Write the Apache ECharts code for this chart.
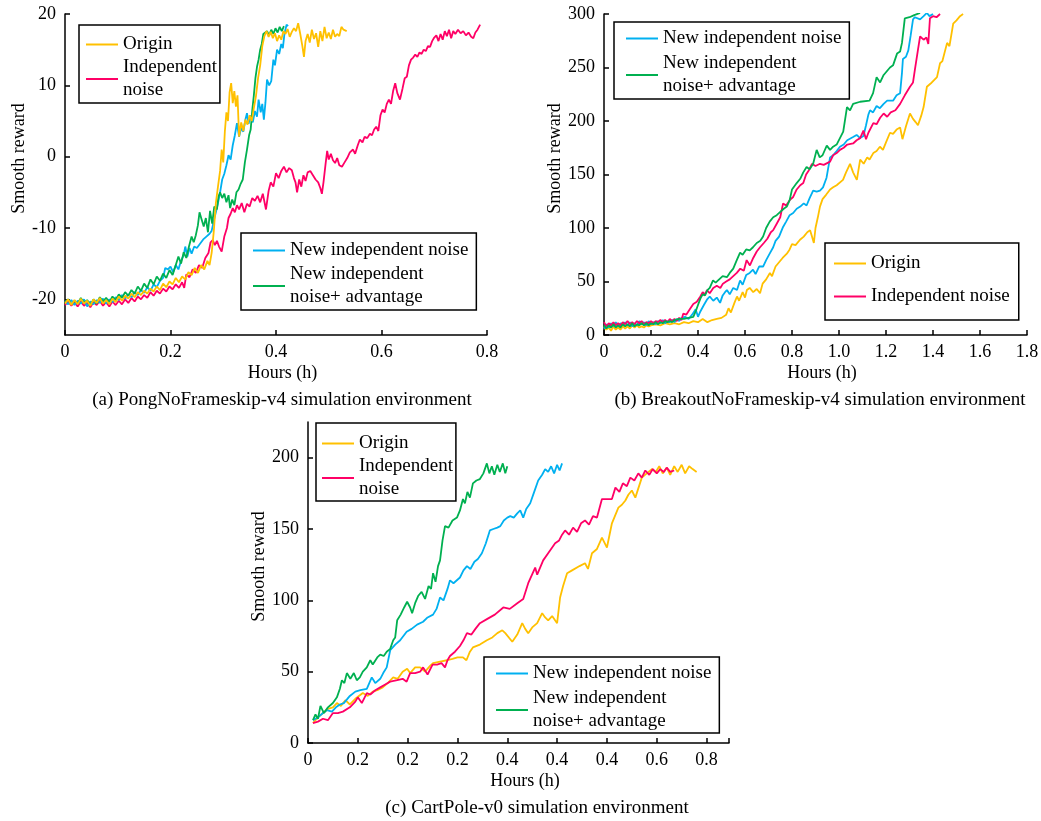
<!DOCTYPE html>
<html>
<head>
<meta charset="utf-8">
<script src="https://cdn.jsdelivr.net/npm/echarts@6/dist/echarts.min.js"></script>
<style>
html,body{margin:0;padding:0;background:#fff;}
#chart{width:1041px;height:821px;}
</style>
</head>
<body>
<div id="chart"></div>
<script>
// ---------- tick values / labels ----------
const pongXTicks = [0, 0.2, 0.4, 0.6, 0.8];
const pongYTicks = [-20, -10, 0, 10, 20];
const breakXTicks = [0, 0.2, 0.4, 0.6, 0.8, 1.0, 1.2, 1.4, 1.6, 1.8];
const breakYTicks = [0, 50, 100, 150, 200, 250, 300];
const cartXTicks = [0, 0.1, 0.2, 0.3, 0.4, 0.5, 0.6, 0.7, 0.8];
const cartXLabels = ['0', '0.2', '0.2', '0.2', '0.4', '0.4', '0.4', '0.6', '0.8'];
const cartYTicks = [0, 50, 100, 150, 200];

const seriesNames = ['Origin', 'Independent noise', 'New independent noise', 'New independent noise+ advantage'];
const captions = ['(a) PongNoFrameskip-v4 simulation environment', '(b) BreakoutNoFrameskip-v4 simulation environment', '(c) CartPole-v0 simulation environment'];

// ---------- (a) Pong ----------
const pongOrigin = [[0,-20.6],[0.006,-20.0],[0.012,-20.8],[0.018,-20.1],[0.024,-20.7],[0.03,-19.9],[0.036,-20.6],[0.042,-20.2],[0.048,-20.9],[0.054,-20.0],[0.06,-20.5],[0.066,-19.8],[0.072,-20.6],[0.078,-20.1],[0.084,-20.7],[0.09,-19.9],[0.096,-20.4],[0.102,-19.6],[0.108,-20.2],[0.114,-19.5],[0.12,-19.9],[0.126,-19.2],[0.132,-19.7],[0.138,-19.0],[0.144,-19.4],[0.15,-18.8],[0.156,-19.2],[0.162,-18.5],[0.168,-18.9],[0.174,-18.2],[0.18,-18.7],[0.186,-17.8],[0.192,-18.3],[0.198,-17.5],[0.204,-17.9],[0.21,-17.0],[0.216,-17.6],[0.222,-16.8],[0.228,-17.2],[0.234,-16.2],[0.24,-16.6],[0.246,-15.6],[0.252,-16.3],[0.258,-15.2],[0.264,-15.8],[0.27,-14.6],[0.274,-15.2],[0.278,-13.5],[0.282,-10.5],[0.286,-6.5],[0.29,-4.2],[0.294,-2.0],[0.297,1.0],[0.3,-0.8],[0.303,3.5],[0.306,6.2],[0.309,5.0],[0.312,9.0],[0.315,10.3],[0.318,7.5],[0.321,9.2],[0.324,7.0],[0.327,8.6],[0.33,2.8],[0.334,4.8],[0.338,3.6],[0.342,5.2],[0.346,4.5],[0.35,5.8],[0.354,5.0],[0.358,6.8],[0.362,8.5],[0.366,11.0],[0.37,12.8],[0.374,15.5],[0.378,16.9],[0.382,17.6],[0.386,16.8],[0.39,17.5],[0.394,16.6],[0.398,17.3],[0.402,16.2],[0.406,17.0],[0.41,16.4],[0.414,17.6],[0.418,17.2],[0.422,17.9],[0.426,16.8],[0.43,17.5],[0.434,18.0],[0.438,17.6],[0.442,18.7],[0.446,17.2],[0.45,15.5],[0.453,14.0],[0.456,16.2],[0.46,17.2],[0.464,16.0],[0.468,17.8],[0.472,16.5],[0.476,17.3],[0.48,15.4],[0.484,17.6],[0.488,16.2],[0.492,18.2],[0.496,16.6],[0.5,17.4],[0.504,16.5],[0.508,17.8],[0.512,16.8],[0.516,17.2],[0.52,16.9],[0.524,18.2],[0.528,17.8],[0.534,17.6]];
const pongIndep = [[0,-20.8],[0.006,-20.3],[0.012,-20.9],[0.018,-20.4],[0.024,-21.0],[0.03,-20.3],[0.036,-20.9],[0.042,-20.5],[0.048,-21.1],[0.054,-20.4],[0.06,-20.8],[0.066,-20.2],[0.072,-20.9],[0.078,-20.4],[0.084,-21.0],[0.09,-20.3],[0.096,-20.8],[0.102,-20.2],[0.108,-20.7],[0.114,-20.0],[0.12,-20.5],[0.126,-19.8],[0.132,-20.3],[0.138,-19.6],[0.144,-20.0],[0.15,-19.4],[0.156,-19.8],[0.162,-19.0],[0.168,-19.5],[0.174,-18.8],[0.18,-19.2],[0.186,-18.5],[0.192,-18.9],[0.198,-18.2],[0.204,-18.6],[0.21,-17.9],[0.216,-18.4],[0.222,-17.6],[0.226,-18.4],[0.23,-16.5],[0.236,-16.9],[0.242,-15.8],[0.248,-16.3],[0.254,-15.2],[0.26,-15.6],[0.266,-14.2],[0.272,-13.5],[0.276,-12.0],[0.28,-11.7],[0.284,-12.4],[0.288,-11.8],[0.292,-12.6],[0.297,-13.3],[0.302,-11.2],[0.307,-10.0],[0.31,-8.6],[0.314,-8.0],[0.318,-7.2],[0.322,-7.8],[0.326,-6.8],[0.33,-7.4],[0.335,-6.5],[0.34,-7.8],[0.345,-6.6],[0.35,-7.0],[0.355,-5.8],[0.36,-6.2],[0.365,-5.5],[0.37,-6.4],[0.375,-5.2],[0.381,-7.4],[0.386,-4.8],[0.39,-3.6],[0.395,-4.2],[0.4,-2.3],[0.405,-3.0],[0.41,-2.0],[0.415,-1.4],[0.42,-2.2],[0.425,-1.6],[0.43,-1.9],[0.434,-3.0],[0.437,-3.6],[0.44,-5.0],[0.444,-3.2],[0.448,-4.2],[0.452,-2.6],[0.456,-3.4],[0.46,-2.2],[0.465,-2.0],[0.47,-2.6],[0.475,-3.2],[0.48,-3.6],[0.484,-4.4],[0.487,-5.2],[0.49,-3.6],[0.494,-1.0],[0.497,0.8],[0.5,-0.4],[0.504,0.4],[0.508,-0.5],[0.512,-0.9],[0.516,-0.2],[0.52,-1.2],[0.525,-1.4],[0.53,-0.8],[0.535,-0.2],[0.54,0.6],[0.546,1.0],[0.55,0.4],[0.555,1.6],[0.559,2.4],[0.564,2.0],[0.568,2.8],[0.573,2.6],[0.578,3.2],[0.582,3.0],[0.586,3.8],[0.59,4.2],[0.594,3.6],[0.598,5.8],[0.602,6.6],[0.606,6.2],[0.61,7.4],[0.614,8.0],[0.618,7.4],[0.622,9.2],[0.626,10.3],[0.63,8.9],[0.635,8.0],[0.64,9.6],[0.644,11.0],[0.648,11.2],[0.652,12.8],[0.656,13.6],[0.66,13.9],[0.664,14.3],[0.668,14.0],[0.672,14.6],[0.676,14.4],[0.68,15.0],[0.684,14.8],[0.688,15.5],[0.692,15.4],[0.696,16.2],[0.7,16.7],[0.704,17.0],[0.708,16.2],[0.712,17.2],[0.716,16.4],[0.72,17.6],[0.724,16.9],[0.728,17.8],[0.732,16.6],[0.736,17.6],[0.74,17.2],[0.745,17.8],[0.75,17.3],[0.755,17.6],[0.76,17.0],[0.765,17.4],[0.77,16.8],[0.774,16.6],[0.778,17.4],[0.782,17.8],[0.787,18.5]];
const pongNew = [[0,-20.2],[0.006,-20.7],[0.012,-20.1],[0.018,-20.8],[0.024,-20.2],[0.03,-20.6],[0.036,-20.0],[0.042,-21.0],[0.048,-20.3],[0.054,-20.7],[0.06,-20.1],[0.066,-20.5],[0.072,-19.9],[0.078,-20.6],[0.084,-20.0],[0.09,-20.4],[0.096,-19.7],[0.102,-20.1],[0.108,-19.4],[0.114,-19.9],[0.12,-19.3],[0.126,-19.7],[0.132,-19.0],[0.138,-19.4],[0.144,-18.7],[0.15,-19.1],[0.156,-18.3],[0.162,-18.8],[0.168,-17.9],[0.174,-18.3],[0.18,-17.4],[0.186,-17.0],[0.19,-15.6],[0.195,-15.8],[0.2,-15.4],[0.205,-16.2],[0.21,-15.2],[0.215,-15.8],[0.22,-14.6],[0.225,-13.8],[0.228,-12.6],[0.232,-14.0],[0.236,-12.8],[0.24,-13.6],[0.245,-12.6],[0.25,-12.8],[0.256,-12.2],[0.262,-11.6],[0.268,-11.2],[0.274,-10.8],[0.278,-10.4],[0.282,-9.0],[0.286,-7.8],[0.29,-6.5],[0.294,-5.0],[0.298,-3.2],[0.302,-2.4],[0.306,-1.2],[0.31,0.2],[0.314,-0.4],[0.318,1.6],[0.322,3.0],[0.326,4.7],[0.33,2.8],[0.334,4.0],[0.338,3.5],[0.342,5.2],[0.345,6.1],[0.348,4.6],[0.352,5.8],[0.356,4.8],[0.36,6.4],[0.364,5.6],[0.367,8.0],[0.371,6.2],[0.374,7.4],[0.377,5.2],[0.38,7.6],[0.383,10.8],[0.387,10.0],[0.391,10.6],[0.395,13.6],[0.398,12.8],[0.402,15.0],[0.406,14.4],[0.41,15.8],[0.413,15.2],[0.416,17.2],[0.42,18.5],[0.423,18.3]];
const pongAdv = [[0,-20.4],[0.006,-20.0],[0.012,-20.7],[0.018,-20.2],[0.024,-20.6],[0.03,-19.8],[0.036,-20.5],[0.042,-20.1],[0.048,-20.8],[0.054,-20.0],[0.06,-20.6],[0.066,-19.7],[0.072,-20.3],[0.078,-19.8],[0.084,-20.4],[0.09,-19.6],[0.096,-20.1],[0.102,-19.3],[0.108,-19.8],[0.114,-19.0],[0.12,-19.5],[0.126,-18.7],[0.132,-19.2],[0.138,-18.2],[0.144,-18.8],[0.15,-17.8],[0.156,-18.4],[0.162,-17.2],[0.168,-17.9],[0.174,-16.8],[0.18,-17.4],[0.186,-16.4],[0.192,-17.0],[0.198,-15.9],[0.204,-16.6],[0.21,-15.2],[0.215,-14.0],[0.22,-15.0],[0.225,-13.4],[0.23,-14.2],[0.235,-12.6],[0.24,-11.2],[0.244,-12.0],[0.248,-11.0],[0.252,-9.6],[0.255,-7.8],[0.259,-8.8],[0.263,-9.8],[0.267,-8.6],[0.271,-10.6],[0.275,-7.6],[0.279,-9.4],[0.283,-7.0],[0.288,-7.4],[0.291,-5.6],[0.294,-5.0],[0.298,-5.8],[0.302,-5.2],[0.306,-6.4],[0.31,-5.4],[0.313,-7.2],[0.317,-6.0],[0.321,-6.8],[0.325,-5.0],[0.329,-4.6],[0.333,-3.8],[0.337,-3.2],[0.341,-0.8],[0.345,1.0],[0.349,3.0],[0.352,3.8],[0.355,6.5],[0.358,8.6],[0.361,11.0],[0.364,12.6],[0.367,13.6],[0.37,15.0],[0.373,15.8],[0.376,17.2],[0.379,17.0],[0.383,17.6],[0.387,17.0],[0.391,17.8],[0.395,17.2],[0.399,18.0],[0.403,17.4],[0.407,18.2],[0.411,17.6],[0.415,18.3]];

// ---------- (b) Breakout ----------
const breakOrigin = [[0,8],[0.01,5],[0.02,7],[0.03,4],[0.04,8],[0.05,5],[0.06,7],[0.07,5],[0.08,8],[0.09,6],[0.1,8],[0.11,6],[0.12,9],[0.13,7],[0.14,9],[0.15,7],[0.16,8],[0.17,7],[0.18,9],[0.19,8],[0.2,9],[0.22,10],[0.24,9],[0.26,11],[0.28,10],[0.3,11],[0.32,10],[0.34,12],[0.36,11],[0.38,13],[0.4,12],[0.42,15],[0.44,12],[0.46,14],[0.48,15],[0.5,16],[0.52,19],[0.53,25],[0.54,21],[0.555,30],[0.566,36],[0.575,32],[0.59,40],[0.6,35],[0.608,42],[0.62,44],[0.635,40],[0.65,43],[0.664,39],[0.675,48],[0.69,52],[0.706,58],[0.715,55],[0.73,64],[0.745,68],[0.76,72],[0.778,76],[0.79,80],[0.8,85],[0.815,84],[0.834,89],[0.85,92],[0.865,96],[0.877,98],[0.885,92],[0.893,86],[0.9,100],[0.91,110],[0.919,120],[0.93,127],[0.945,131],[0.962,136],[0.975,138],[0.99,140],[1.017,145],[1.03,152],[1.047,160],[1.06,152],[1.076,145],[1.09,164],[1.105,160],[1.12,166],[1.13,164],[1.146,170],[1.16,172],[1.174,176],[1.187,173],[1.2,180],[1.217,189],[1.23,188],[1.245,192],[1.26,194],[1.27,183],[1.285,195],[1.302,207],[1.315,202],[1.326,199],[1.336,196],[1.35,205],[1.36,213],[1.374,232],[1.39,235],[1.417,241],[1.43,254],[1.44,256],[1.46,273],[1.47,270],[1.476,271],[1.486,291],[1.5,294],[1.515,298],[1.528,300]];
const breakIndep = [[0,12],[0.01,8],[0.02,11],[0.03,9],[0.04,12],[0.05,9],[0.06,11],[0.07,9],[0.08,12],[0.09,10],[0.1,13],[0.11,10],[0.12,12],[0.13,10],[0.14,13],[0.15,11],[0.16,13],[0.17,10],[0.18,12],[0.19,11],[0.2,13],[0.21,11],[0.22,13],[0.23,12],[0.24,14],[0.25,12],[0.26,14],[0.27,12],[0.28,15],[0.29,13],[0.3,15],[0.31,13],[0.32,16],[0.33,14],[0.337,20],[0.35,19],[0.365,24],[0.38,29],[0.395,31],[0.41,36],[0.42,40],[0.43,38],[0.438,42],[0.45,39],[0.465,44],[0.48,46],[0.495,44],[0.506,48],[0.52,50],[0.535,52],[0.55,55],[0.565,58],[0.58,62],[0.595,60],[0.607,70],[0.621,65],[0.635,72],[0.65,78],[0.664,82],[0.68,86],[0.695,90],[0.71,96],[0.72,98],[0.735,104],[0.75,110],[0.762,123],[0.775,121],[0.79,126],[0.805,129],[0.82,136],[0.835,140],[0.848,142],[0.86,150],[0.872,154],[0.885,160],[0.9,158],[0.919,160],[0.935,159],[0.962,162],[0.975,168],[0.99,170],[1.004,173],[1.02,175],[1.035,178],[1.06,179],[1.075,182],[1.09,184],[1.104,191],[1.115,183],[1.125,189],[1.146,198],[1.16,197],[1.175,203],[1.19,207],[1.205,204],[1.22,208],[1.24,210],[1.26,216],[1.28,224],[1.302,232],[1.315,236],[1.323,248],[1.335,265],[1.345,279],[1.36,276],[1.372,278],[1.38,272],[1.387,296],[1.4,298],[1.415,297],[1.43,300]];
const breakNew = [[0,6],[0.01,10],[0.02,7],[0.03,11],[0.04,8],[0.05,12],[0.06,8],[0.07,11],[0.08,9],[0.09,12],[0.1,9],[0.11,12],[0.12,8],[0.13,11],[0.14,9],[0.15,13],[0.16,10],[0.17,12],[0.18,9],[0.19,13],[0.2,10],[0.21,12],[0.22,10],[0.23,13],[0.24,11],[0.25,14],[0.26,11],[0.27,13],[0.28,12],[0.29,14],[0.3,12],[0.31,15],[0.32,13],[0.33,16],[0.345,17],[0.36,15],[0.375,19],[0.39,24],[0.4,17],[0.41,22],[0.425,28],[0.438,33],[0.45,36],[0.465,32],[0.48,35],[0.494,30],[0.505,37],[0.515,40],[0.523,42],[0.535,38],[0.55,44],[0.566,42],[0.579,51],[0.59,47],[0.605,56],[0.62,58],[0.634,61],[0.645,57],[0.66,64],[0.677,64],[0.69,70],[0.705,76],[0.72,82],[0.73,88],[0.745,92],[0.762,101],[0.775,106],[0.79,112],[0.805,114],[0.82,118],[0.835,120],[0.85,123],[0.862,121],[0.875,128],[0.89,135],[0.905,134],[0.919,135],[0.932,138],[0.947,147],[0.962,166],[0.975,168],[0.99,172],[1.004,176],[1.02,178],[1.035,182],[1.06,185],[1.075,187],[1.09,184],[1.104,186],[1.115,196],[1.125,206],[1.132,210],[1.145,208],[1.16,214],[1.174,212],[1.19,216],[1.205,219],[1.23,219],[1.245,224],[1.26,226],[1.268,245],[1.272,258],[1.285,260],[1.295,266],[1.305,280],[1.315,295],[1.323,297],[1.345,295],[1.36,298],[1.374,301],[1.385,298],[1.4,300]];
const breakAdv = [[0,9],[0.01,6],[0.02,9],[0.03,7],[0.04,10],[0.05,7],[0.06,9],[0.07,7],[0.08,10],[0.09,8],[0.1,10],[0.11,8],[0.12,11],[0.13,8],[0.14,10],[0.15,9],[0.16,11],[0.17,9],[0.18,11],[0.19,9],[0.2,11],[0.21,10],[0.22,12],[0.23,10],[0.24,12],[0.25,11],[0.26,13],[0.27,12],[0.28,13],[0.29,12],[0.3,14],[0.32,15],[0.34,15],[0.36,16],[0.38,17],[0.39,22],[0.4,28],[0.41,34],[0.42,38],[0.43,37],[0.44,42],[0.45,44],[0.464,51],[0.475,49],[0.49,52],[0.505,55],[0.523,54],[0.535,58],[0.55,62],[0.565,70],[0.579,77],[0.59,75],[0.605,80],[0.62,79],[0.634,82],[0.65,86],[0.665,88],[0.677,92],[0.69,100],[0.705,106],[0.72,110],[0.735,112],[0.75,115],[0.765,118],[0.778,120],[0.79,126],[0.8,136],[0.82,142],[0.835,146],[0.848,152],[0.862,157],[0.875,155],[0.89,160],[0.905,173],[0.918,166],[0.93,168],[0.948,177],[0.962,173],[0.975,176],[0.99,178],[1.004,184],[1.018,190],[1.034,213],[1.047,210],[1.06,216],[1.09,218],[1.13,219],[1.145,226],[1.16,241],[1.175,236],[1.19,243],[1.217,250],[1.23,252],[1.247,263],[1.26,265],[1.268,273],[1.28,296],[1.3,297],[1.32,299],[1.345,301]];

// ---------- (c) CartPole ----------
const cartOrigin = [[0.01,14],[0.02,18],[0.03,21],[0.04,24],[0.05,25],[0.058,28],[0.066,26],[0.075,30],[0.084,27],[0.095,31],[0.11,35],[0.12,33],[0.13,36],[0.139,37],[0.15,39],[0.16,42],[0.171,46],[0.18,45],[0.19,50],[0.199,52],[0.205,49],[0.215,53],[0.225,53],[0.235,50],[0.245,54],[0.251,56],[0.265,57],[0.279,58],[0.29,59],[0.3,60],[0.311,60],[0.318,58],[0.325,64],[0.331,67],[0.345,69],[0.359,72],[0.37,74],[0.38,77],[0.39,79],[0.396,77],[0.41,71],[0.42,76],[0.43,84],[0.436,80],[0.442,77],[0.45,81],[0.46,84],[0.47,91],[0.476,88],[0.482,86],[0.49,89],[0.5,84],[0.506,102],[0.512,110],[0.52,119],[0.53,121],[0.545,124],[0.556,126],[0.562,122],[0.57,133],[0.58,136],[0.59,144],[0.6,137],[0.61,154],[0.623,165],[0.63,167],[0.637,170],[0.643,174],[0.65,177],[0.657,172],[0.67,186],[0.68,189],[0.69,192],[0.698,190],[0.705,194],[0.712,189],[0.72,193],[0.727,188],[0.735,194],[0.742,190],[0.75,195],[0.757,189],[0.765,194],[0.772,192],[0.78,190]];
const cartIndep = [[0.01,14],[0.02,15],[0.03,17],[0.04,16],[0.05,21],[0.06,21],[0.07,22],[0.084,25],[0.095,29],[0.1,32],[0.108,28],[0.118,35],[0.125,34],[0.135,37],[0.145,39],[0.155,41],[0.165,43],[0.179,44],[0.19,45],[0.198,43],[0.205,49],[0.215,49],[0.225,50],[0.231,53],[0.24,48],[0.25,55],[0.259,55],[0.268,56],[0.275,53],[0.28,58],[0.285,61],[0.295,64],[0.305,68],[0.312,72],[0.319,77],[0.328,76],[0.336,80],[0.345,84],[0.36,87],[0.375,90],[0.392,95],[0.405,94],[0.42,98],[0.432,101],[0.442,112],[0.456,123],[0.46,118],[0.472,128],[0.482,133],[0.496,140],[0.504,142],[0.51,146],[0.516,149],[0.524,146],[0.532,151],[0.54,148],[0.548,154],[0.556,156],[0.564,153],[0.572,159],[0.58,158],[0.59,171],[0.6,171],[0.61,171],[0.617,179],[0.625,176],[0.632,182],[0.64,180],[0.647,186],[0.655,184],[0.663,189],[0.67,186],[0.677,191],[0.685,188],[0.692,192],[0.7,189],[0.707,192],[0.714,190],[0.72,193],[0.727,190],[0.735,191]];
const cartNew = [[0.01,16],[0.02,18],[0.03,21],[0.038,23],[0.048,22],[0.056,25],[0.064,27],[0.072,28],[0.084,33],[0.095,36],[0.105,37],[0.118,38],[0.128,46],[0.135,42],[0.145,45],[0.151,49],[0.158,53],[0.165,65],[0.175,69],[0.185,72],[0.198,78],[0.208,80],[0.219,83],[0.231,85],[0.24,88],[0.251,90],[0.258,94],[0.265,102],[0.272,100],[0.28,108],[0.285,114],[0.292,112],[0.305,116],[0.312,121],[0.319,124],[0.326,122],[0.334,127],[0.341,129],[0.349,133],[0.357,140],[0.365,149],[0.372,150],[0.38,151],[0.386,152],[0.393,156],[0.4,158],[0.406,159],[0.413,158],[0.42,161],[0.426,163],[0.432,158],[0.438,164],[0.446,168],[0.454,176],[0.462,184],[0.47,188],[0.476,192],[0.482,190],[0.488,194],[0.494,189],[0.5,195],[0.505,191],[0.51,196]];
const cartAdv = [[0.01,16],[0.015,20],[0.02,17],[0.025,26],[0.032,21],[0.04,25],[0.05,28],[0.058,32],[0.064,38],[0.068,44],[0.073,42],[0.078,49],[0.085,45],[0.092,49],[0.098,44],[0.104,46],[0.11,50],[0.118,53],[0.125,58],[0.13,55],[0.139,60],[0.145,62],[0.152,61],[0.158,64],[0.165,66],[0.171,72],[0.175,74],[0.179,86],[0.186,90],[0.193,95],[0.199,99],[0.205,95],[0.209,91],[0.215,98],[0.221,103],[0.228,106],[0.235,101],[0.242,110],[0.247,108],[0.251,119],[0.256,113],[0.261,124],[0.265,128],[0.27,142],[0.275,152],[0.282,151],[0.29,156],[0.299,158],[0.305,163],[0.311,171],[0.315,168],[0.32,176],[0.325,172],[0.331,182],[0.338,184],[0.345,185],[0.352,189],[0.359,196],[0.364,189],[0.369,194],[0.374,188],[0.38,195],[0.385,190],[0.391,196],[0.396,189],[0.4,194]];

// ---------- styling ----------
const FONT = 'Liberation Serif';
const COLORS = {'Origin': '#FFC000', 'Independent noise': '#FF0066', 'New independent noise': '#00B0F0', 'New independent noise+ advantage': '#00B050'};
const wrapped = {'Independent noise': 'Independent\nnoise', 'New independent noise+ advantage': 'New independent\nnoise+ advantage'};

const chart = echarts.init(document.getElementById('chart'), null, {renderer: 'canvas'});

function fmtInt(v) { return String(v); }
function fmtDec(v) { return v === 0 ? '0' : v.toFixed(1); }

function xAxis(gi, min, max, ticks, tickVals, labelFn) {
  return {
    type: 'value', gridIndex: gi, min: min, max: max,
    name: 'Hours (h)', nameLocation: 'middle', nameGap: 29,
    nameTextStyle: {fontFamily: FONT, fontSize: 18, color: '#000', padding: [0, 0, 0, 13]},
    axisLine: {show: true, onZero: false, lineStyle: {color: '#000', width: 1.5}},
    axisTick: {show: true, inside: true, length: 5, customValues: tickVals, lineStyle: {color: '#000', width: 1.5}},
    axisLabel: {show: true, customValues: ticks, margin: 8, fontFamily: FONT, fontSize: 18, color: '#000', formatter: labelFn},
    splitLine: {show: false}
  };
}
function yAxis(gi, min, max, ticks) {
  return {
    type: 'value', gridIndex: gi, min: min, max: max,
    name: 'Smooth reward', nameLocation: 'middle', nameGap: 36,
    nameTextStyle: {fontFamily: FONT, fontSize: 18, color: '#000', padding: [0, 0, 0, 32]},
    axisLine: {show: true, onZero: false, lineStyle: {color: '#000', width: 1.5}},
    axisTick: {show: true, inside: true, length: 5, customValues: ticks, lineStyle: {color: '#000', width: 1.5}},
    axisLabel: {show: true, customValues: ticks, margin: 9, fontFamily: FONT, fontSize: 18, color: '#000', formatter: fmtInt},
    splitLine: {show: false}
  };
}
function legend(names, left, top, pad, gap, wrap) {
  return {
    data: names, orient: 'vertical', left: left, top: top, padding: pad, itemGap: gap,
    itemWidth: 32, itemHeight: 2, icon: 'rect', selectedMode: false,
    borderColor: '#000', borderWidth: 1.5, backgroundColor: '#fff', borderRadius: 0,
    textStyle: {fontFamily: FONT, fontSize: 19, lineHeight: 23, color: '#000'},
    formatter: function (n) { return (wrap && wrapped[n]) || n; }
  };
}
function line(name, gi, data) {
  return {
    type: 'line', name: name, xAxisIndex: gi, yAxisIndex: gi, data: data,
    symbol: 'none', showSymbol: false, smooth: false, animation: false,
    lineStyle: {color: COLORS[name], width: 1.8}, itemStyle: {color: COLORS[name]}
  };
}

const option = {
  backgroundColor: '#fff',
  animation: false,
  textStyle: {fontFamily: FONT},
  grid: [
    {left: 65, top: 14, width: 422, height: 321, containLabel: false, outerBoundsMode: 'none'},
    {left: 604, top: 14, width: 423, height: 321, containLabel: false, outerBoundsMode: 'none'},
    {left: 308, top: 422, width: 421, height: 321, containLabel: false, outerBoundsMode: 'none'}
  ],
  xAxis: [
    xAxis(0, 0, 0.8, pongXTicks, pongXTicks, fmtDec),
    xAxis(1, 0, 1.8, breakXTicks, breakXTicks, fmtDec),
    xAxis(2, 0, 0.845, cartXTicks, cartXTicks.concat([0.845]), function (v) { const i = Math.round(v * 10); return cartXLabels[i] !== undefined ? cartXLabels[i] : ''; })
  ],
  yAxis: [
    yAxis(0, -25, 20, pongYTicks),
    yAxis(1, 0, 300, breakYTicks),
    yAxis(2, 0, 225, cartYTicks)
  ],
  legend: [
    legend([seriesNames[0], seriesNames[1]], 79, 25, [8, 3, 1, 7], 0, true),
    legend([seriesNames[2], seriesNames[3]], 241, 233, [6, 8, 1, 12], 1, true),
    legend([seriesNames[2], seriesNames[3]], 614, 22, [5, 8, 1, 12], 2, true),
    legend([seriesNames[0], seriesNames[1]], 825, 243, [9, 9, 12, 9], 10, false),
    legend([seriesNames[0], seriesNames[1]], 316, 423, [9, 3, 0, 6], 0, true),
    legend([seriesNames[2], seriesNames[3]], 484, 657, [5, 8, 0, 12], 2, true)
  ],
  graphic: [
    {type: 'text', x: 282, y: 400, style: {text: captions[0], font: '19px "Liberation Serif"', fill: '#000', align: 'center', verticalAlign: 'middle'}},
    {type: 'text', x: 820, y: 400, style: {text: captions[1], font: '19px "Liberation Serif"', fill: '#000', align: 'center', verticalAlign: 'middle'}},
    {type: 'text', x: 537, y: 808, style: {text: captions[2], font: '19px "Liberation Serif"', fill: '#000', align: 'center', verticalAlign: 'middle'}}
  ],
  series: [
    line(seriesNames[1], 0, pongIndep),
    line(seriesNames[2], 0, pongNew),
    line(seriesNames[3], 0, pongAdv),
    line(seriesNames[0], 0, pongOrigin),
    line(seriesNames[0], 1, breakOrigin),
    line(seriesNames[2], 1, breakNew),
    line(seriesNames[1], 1, breakIndep),
    line(seriesNames[3], 1, breakAdv),
    line(seriesNames[0], 2, cartOrigin),
    line(seriesNames[1], 2, cartIndep),
    line(seriesNames[2], 2, cartNew),
    line(seriesNames[3], 2, cartAdv)
  ]
};
chart.setOption(option);
</script>
</body>
</html>
